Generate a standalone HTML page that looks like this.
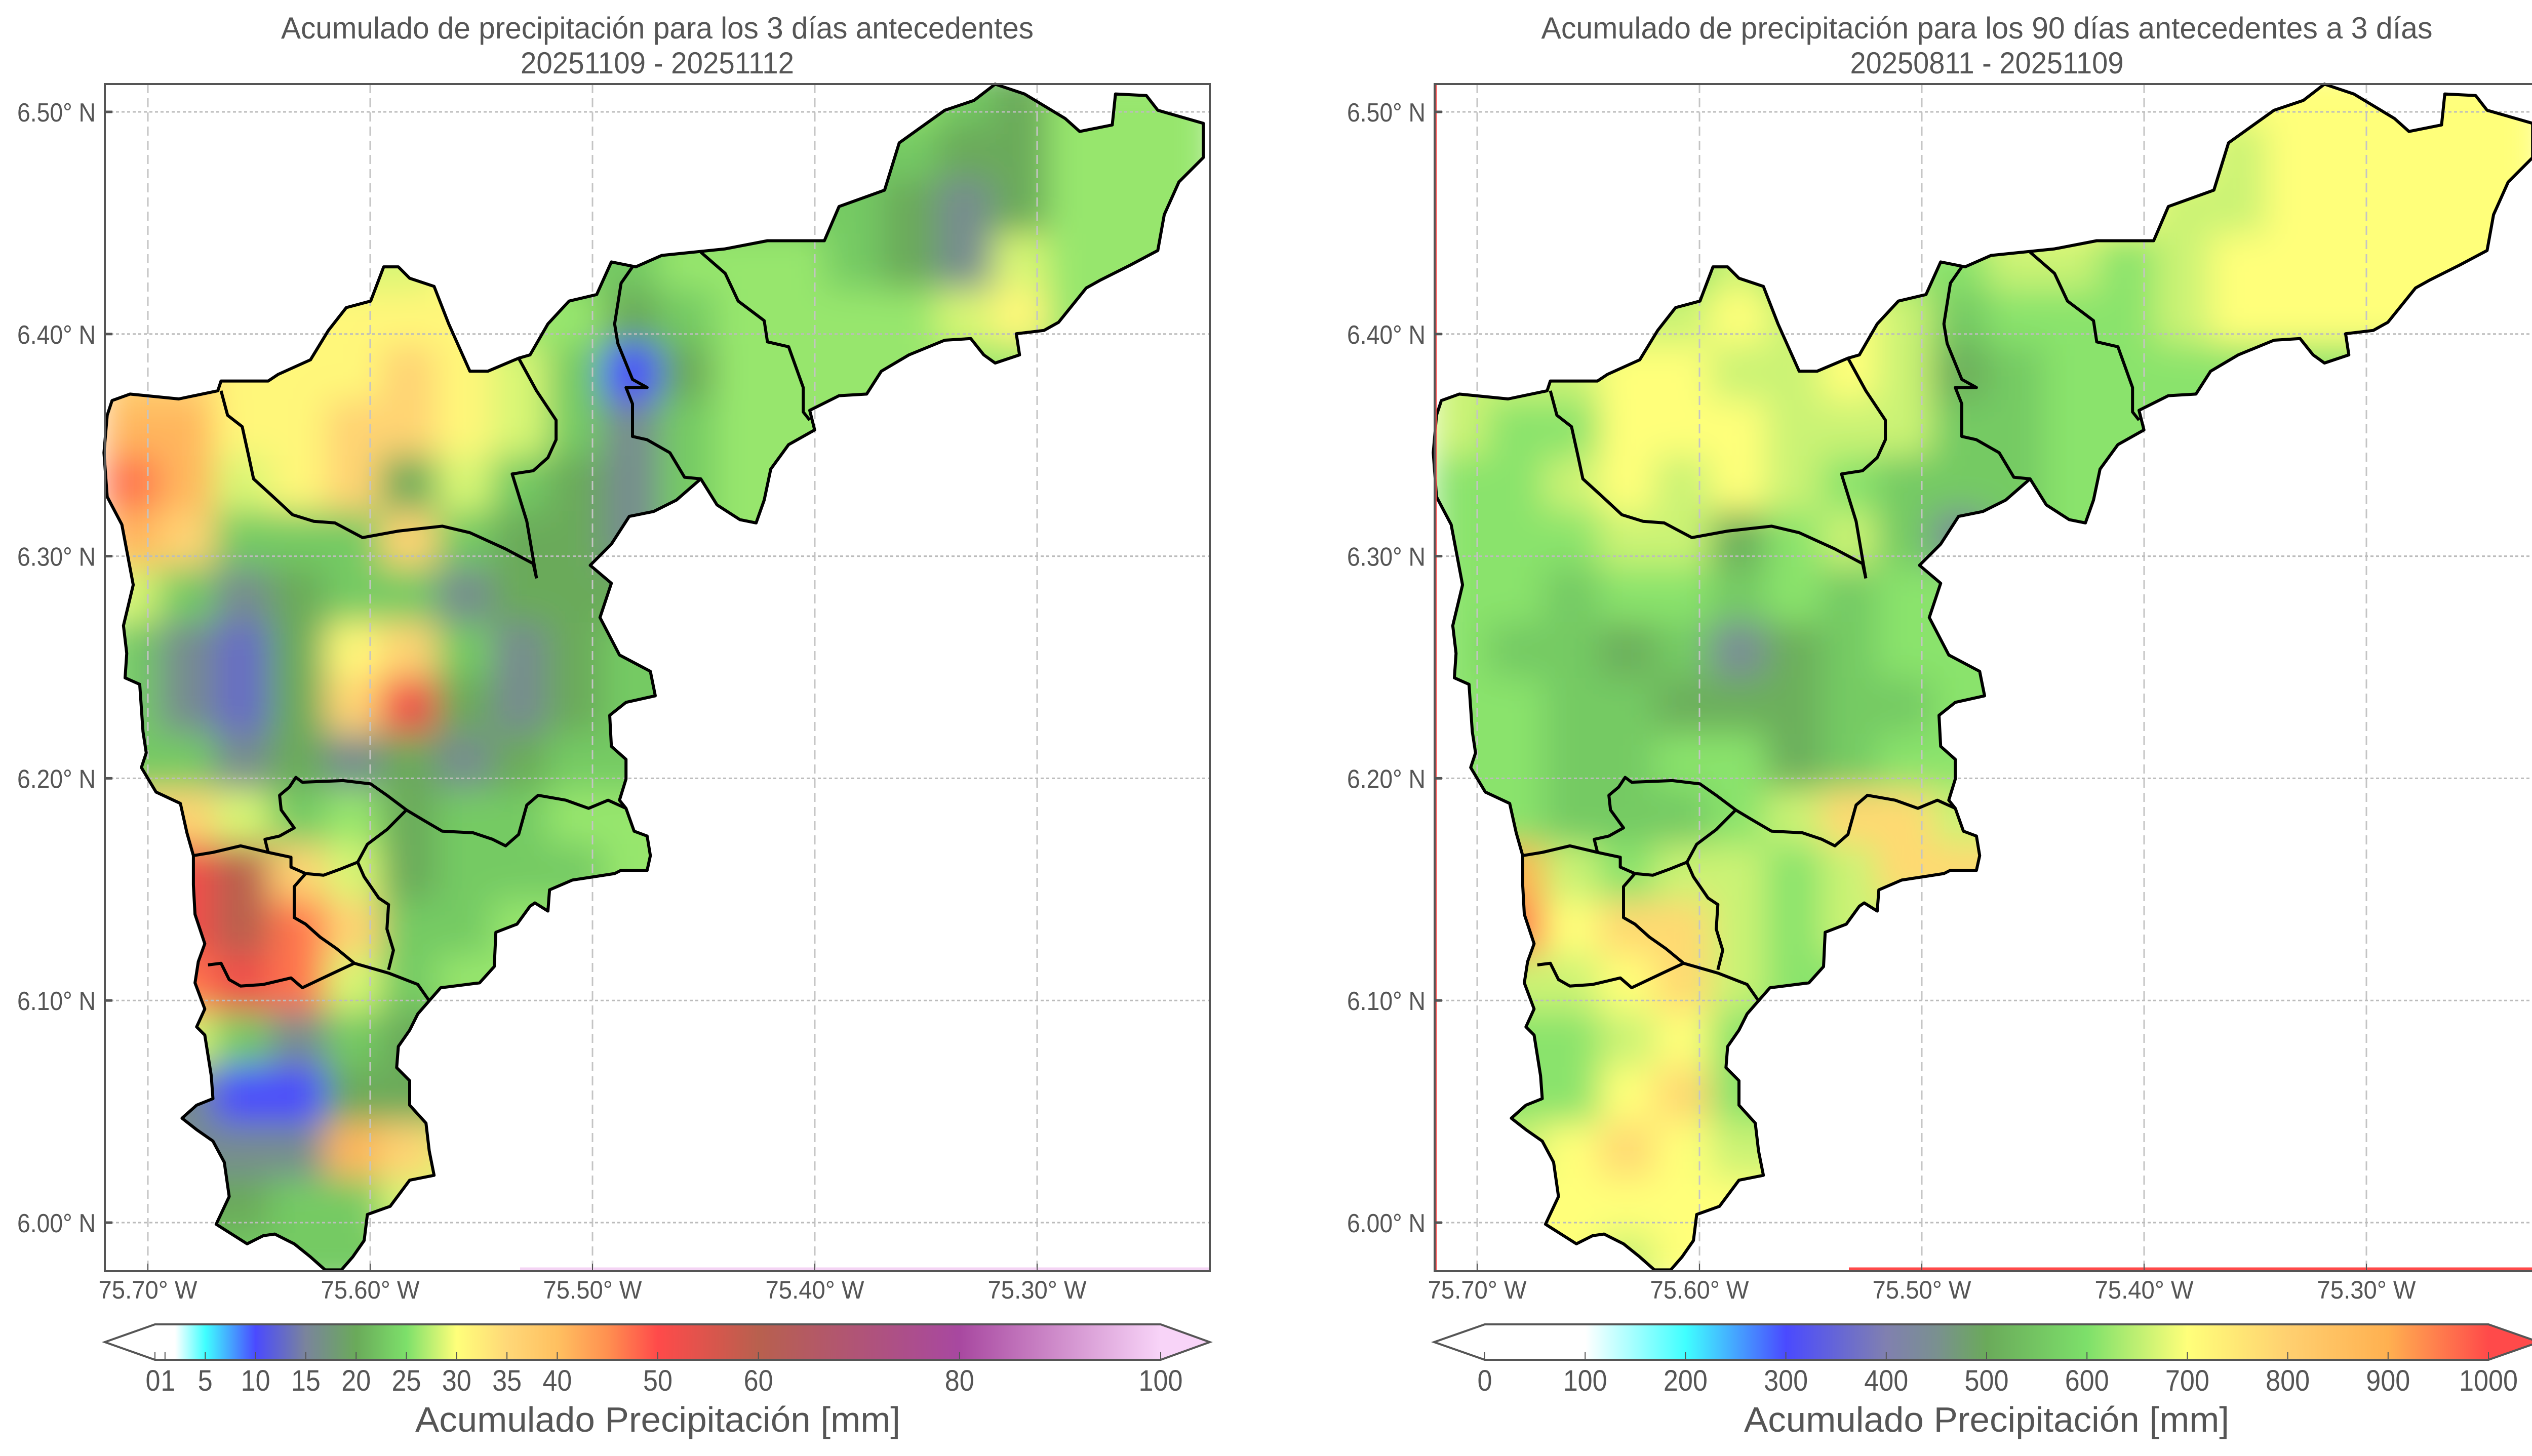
<!DOCTYPE html>
<html><head><meta charset="utf-8">
<style>
html,body{margin:0;padding:0;background:#fff;overflow:hidden;}
svg{display:block;font-family:"Liberation Sans Narrow","Liberation Sans",sans-serif;}
</style></head>
<body>
<svg id="chart" xmlns="http://www.w3.org/2000/svg" width="5044" height="2876" viewBox="0 0 5044 2876">
<defs>
<linearGradient id="cbLeft" x1="0" x2="1" y1="0" y2="0"></linearGradient>
<linearGradient id="cbRight" x1="0" x2="1" y1="0" y2="0"></linearGradient>
<filter id="blurL" filterUnits="userSpaceOnUse" x="0" y="0" width="5044" height="2876"><feGaussianBlur stdDeviation="34"/></filter>
</defs>
</svg>
<script>
// ---------- data ----------
const lonTicks = [-75.70, -75.60, -75.50, -75.40, -75.30];
const lonTickLabels = ["75.70° W","75.60° W","75.50° W","75.40° W","75.30° W"];
const latTicks = [6.00, 6.10, 6.20, 6.30, 6.40, 6.50];
const latTickLabels = ["6.00° N","6.10° N","6.20° N","6.30° N","6.40° N","6.50° N"];
const gridLon0 = -75.72, gridLat0 = 6.52, gridStep = 0.025;
const leftCodes = {c:5,B:10,b:13,S:16,g:20,G:23,L:26,y:28.5,Y:31,o:36,O:41,r:47,R:52,M:60};
const rightCodes = {S:440,g:510,G:560,L:610,y:660,Y:700,o:780,O:840,r:900,R:960};
const leftGrid = [
"LLLLLLLLLLLLLLLGgLLL",
"GGGGGGGGGGGGGGGggLLL",
"GGGGGGGGGGGGGGgSgLLL",
"YYYYyyYYGGLLLGgSyLLL",
"YYYYYYYLLgGLLLLyYLLL",
"ooYYYoYyGBgLLLLLLLLL",
"OOYYooYyGSGLLLLLLLLL",
"rOyYogyGgSGLLLLLLLLL",
"OoGGGoGggSGLLLLLLLLL",
"yGSgGGSgggGLLLLLLLLL",
"GSbgYoGSgGGGGGGGGGGG",
"GSbgoRgSgGGGGGGGGGGG",
"GGSgSgSgGGGGGGGGGGGG",
"ooyGLgGGLLLLLLLLLLLL",
"RRMoygGGGLLLLLLLLLLL",
"RRMroGGLLLLLLLLLLLLL",
"rrRryGLLLLLLLLLLLLLL",
"yyGSGggggggggggggggg",
"SSBBgggggggggggggggg",
"SSSSOoyyyyyyyyyyyyyy",
"gggGGyyyyyyyyyyyyyyy",
"GGGGGGGGGGGGGGGGGGGG"];
const rightGrid = [
"YYYYYYYYYYYYYYYYYYYY",
"YYYYYYYYYYYYYYyYYYYY",
"YYYYYYYYYYYYYyyYYYYY",
"LLLLLyLLLLyyLyYYYYYY",
"yyyyyYyYyGLLLyYYYYYY",
"yyyYYyyYygGLLLLLLLLL",
"yLLYYYyyyGGLLLLLLLLL",
"LLyYyYyLGGGLLLLLLLLL",
"LLLyygLyGSGLLLLLLLLL",
"LLGLLGLGLLLLLLLLLLLL",
"LGGgGSgGLLLLLLLLLLLL",
"LLGGgggGGLLLLLLLLLLL",
"LLGGLLgGLLLLLLLLLLLL",
"LLGGGLyooyyyyyyyyyyy",
"rryLyyLyoooooooooooo",
"RRYooyLyyyyyyyyyyyyy",
"yyyYoyLLLLLLLLLLLLLL",
"LLLyYLLLLLLLLLLLLLLL",
"LLLYoLLLLLLLLLLLLLLL",
"yyYoYyyyyyyyyyyyyyyy",
"YYYYYYYYYYYYYYYYYYYY",
"YYYyYYYYYYYYYYYYYYYY"];
const leftCbTicks = [0,1,5,10,15,20,25,30,35,40,50,60,80,100];
const leftCbLabels = ["0","1","5","10","15","20","25","30","35","40","50","60","80","100"];
const rightCbTicks = [0,100,200,300,400,500,600,700,800,900,1000];
const rightCbLabels = ["0","100","200","300","400","500","600","700","800","900","1000"];

// basemap geometry (traced, reference-image units -> converted to lon/lat below)
const outlineTrace = [[69,246],[80,242],[110,245],[134,240],[136,234],[165,234],[171,230],[191,221],[202,203],[213,189],[228,185],[236,164],[245,164],[252,171],[267,176],[276,199],[289,228],[300,228],[319,220],[326,218],[337,199],[350,185],[367,181],[376,161],[391,164],[407,157],[446,153],[472,148],[507,148],[516,127],[544,117],[553,88],[581,68],[599,62],[612,52],[630,58],[655,73],[664,81],[684,77],[686,58],[705,59],[712,68],[740,76],[740,97],[725,112],[716,132],[712,154],[695,163],[677,172],[668,177],[651,198],[642,203],[625,205],[627,218],[612,223],[605,218],[597,208],[581,209],[559,218],[542,228],[533,242],[516,243],[498,252],[501,264],[485,273],[474,288],[470,307],[465,321],[455,319],[441,310],[431,294],[416,307],[402,314],[387,317],[376,334],[363,347],[376,358],[369,379],[381,402],[400,412],[403,427],[385,431],[375,439],[376,458],[385,466],[385,478],[381,491],[385,496],[390,510],[398,513],[400,525],[398,534],[382,534],[378,536],[352,540],[338,546],[337,559],[329,554],[326,556],[318,567],[305,572],[304,593],[295,603],[271,606],[264,614],[257,622],[252,632],[245,642],[244,655],[252,663],[252,678],[262,689],[264,706],[267,721],[252,724],[240,740],[226,745],[224,761],[217,771],[210,779],[200,779],[191,771],[181,763],[169,757],[162,758],[152,763],[133,751],[141,734],[138,713],[131,700],[121,693],[112,686],[121,678],[131,674],[130,660],[126,635],[121,630],[126,619],[120,603],[122,590],[126,579],[120,561],[119,543],[119,525],[115,511],[111,493],[96,486],[87,471],[90,462],[88,449],[86,420],[77,416],[78,401],[76,384],[82,359],[75,322],[66,305],[64,278],[66,255]];
const subbasinTraces = [
[[136,240],[140,255],[149,262],[153,280],[156,294],[167,304],[180,316],[193,320],[206,321],[223,330],[245,326],[272,323],[289,327],[311,337],[328,346],[330,355]],
[[330,355],[324,320],[315,291],[328,289],[337,281],[342,270],[342,258],[330,240],[319,220]],
[[431,294],[421,293],[412,278],[398,270],[389,268],[389,248],[385,238],[398,238],[389,233],[380,211],[378,199],[382,174],[389,164]],
[[431,155],[446,168],[454,185],[470,197],[472,210],[485,213],[494,238],[494,253],[498,258]],
[[119,525],[131,523],[148,519],[165,523],[179,526],[179,532],[188,536],[199,537],[210,533],[220,529]],
[[220,529],[224,538],[233,551],[239,555],[238,570],[242,583],[239,595]],
[[220,529],[226,518],[238,509],[250,497],[260,503],[272,510],[291,511],[303,515],[311,519],[319,512],[324,494],[331,488],[348,491],[362,496],[374,491],[385,496]],
[[250,497],[238,488],[228,481],[211,479],[186,480],[182,477],[178,483],[172,488],[173,497],[181,508],[172,513],[163,515],[165,523]],
[[188,536],[181,544],[181,563],[188,567],[197,575],[207,582],[218,591],[239,597],[257,604],[264,614]],
[[218,591],[205,597],[186,606],[179,600],[162,604],[148,605],[141,601],[136,591],[128,592]]];

// ---------- helpers ----------
const NS = "http://www.w3.org/2000/svg";
const svg = document.getElementById("chart");
function mk(tag, attrs, parent){const e=document.createElementNS(NS,tag);for(const k in attrs)e.setAttribute(k,attrs[k]);(parent||svg).appendChild(e);return e;}
const toGeo = p => [-75.70 + (p[0]-91)/1367, 6.50 - (p[1]-69)/1362];
const outlineGeo = outlineTrace.map(toGeo);
const subGeo = subbasinTraces.map(l => l.map(toGeo));
const AX = {top:166, bottom:2511};
const yScale = lat => 221 + (6.50 - lat) * 4388;
function hex2rgb(h){return [parseInt(h.substr(1,2),16),parseInt(h.substr(3,2),16),parseInt(h.substr(5,2),16)];}
function cmap(stops, v){
  if(v<=stops[0][0]) return stops[0][1];
  for(let i=1;i<stops.length;i++){ if(v<=stops[i][0]){const t=(v-stops[i-1][0])/(stops[i][0]-stops[i-1][0]);const a=hex2rgb(stops[i-1][1]),b=hex2rgb(stops[i][1]);return "rgb("+a.map((x,j)=>Math.round(x+(b[j]-x)*t)).join(",")+")";}}
  return stops[stops.length-1][1];
}
const leftStops=[[0,'#ffffff'],[2,'#ffffff'],[5,'#40ffff'],[10,'#4a4aff'],[15,'#7a849c'],[20,'#6aaa5a'],[25,'#7de06a'],[30,'#ffff7a'],[35,'#ffd878'],[40,'#ffc060'],[45,'#ff9050'],[50,'#ff4a4a'],[60,'#b8604e'],[80,'#a848a0'],[100,'#f8d4f8']];
const rightStops=[[0,'#ffffff'],[100,'#ffffff'],[200,'#40ffff'],[300,'#4a4aff'],[400,'#8080b0'],[450,'#7a9090'],[500,'#6aaa5a'],[600,'#7de06a'],[700,'#ffff7a'],[800,'#ffd070'],[900,'#ffb050'],[1000,'#ff4a4a']];
function txt(parent,x,y,s,size,anchor,len){const t=mk("text",{x:x,y:y,"font-size":size,fill:"#555","text-anchor":anchor||"middle"},parent);if(len){t.setAttribute("textLength",len);t.setAttribute("lengthAdjust","spacingAndGlyphs");}t.textContent=s;return t;}

function panel(o){
  const g = mk("g",{});
  
  
  const xS = lon => o.x0 + (lon + 75.70) * 4390;
  const clipId = "clip-"+o.name;
  const cp = mk("clipPath",{id:clipId}, svg.querySelector("defs"));
  const ptsStr = outlineGeo.map(p=>xS(p[0]).toFixed(1)+","+yScale(p[1]).toFixed(1)).join(" ");
  mk("polygon",{points:ptsStr},cp);
  const field = mk("g",{"clip-path":"url(#"+clipId+")"},g);
  
  
  const blurG = mk("g",{filter:"url(#blurL)"},field);
  o.grid.forEach((row,r)=>{
    for(let c=0;c<row.length;c++){
      const v=o.codes[row[c]];
      const lonA=gridLon0+gridStep*c, lonB=lonA+gridStep;
      const latA=gridLat0-gridStep*r, latB=latA-gridStep;
      const rect=mk("rect",{x:xS(lonA)-1,y:yScale(latA)-1,width:xS(lonB)-xS(lonA)+2,height:yScale(latB)-yScale(latA)+2,fill:cmap(o.stops,v)},blurG);
      
      
    }
  });
  lonTicks.forEach(l=>{const ln=mk("line",{x1:xS(l),x2:xS(l),y1:AX.top,y2:AX.bottom,stroke:"#c4c4c4","stroke-width":3,"stroke-dasharray":"18 10"},g);
    });
  latTicks.forEach(l=>{const ln=mk("line",{x1:o.left,x2:o.right,y1:yScale(l),y2:yScale(l),stroke:"#bcbcbc","stroke-width":3,"stroke-dasharray":"6 5"},g);
    });
  const ol=mk("polygon",{points:ptsStr,fill:"none",stroke:"#000","stroke-width":6,"stroke-linejoin":"round"},g);
  
  subGeo.forEach(l=>{const pl=mk("polyline",{points:l.map(p=>xS(p[0]).toFixed(1)+","+yScale(p[1]).toFixed(1)).join(" "),fill:"none",stroke:"#000","stroke-width":6,"stroke-linejoin":"round"},g);
    });
  const art=mk("line",{x1:o.artX,x2:o.right,y1:AX.bottom-4,y2:AX.bottom-4,stroke:o.artColor,"stroke-width":7},g);
  
  if(o.artLeft){const a2=mk("line",{x1:o.left+2,x2:o.left+2,y1:AX.top,y2:AX.bottom,stroke:o.artColor,"stroke-width":4},g);
    }
  const fr=mk("rect",{x:o.left,y:AX.top,width:o.right-o.left,height:AX.bottom-AX.top,fill:"none",stroke:"#555","stroke-width":4},g);
  
  lonTicks.forEach((l,i)=>{const tk=mk("line",{x1:xS(l),x2:xS(l),y1:AX.bottom-15,y2:AX.bottom,stroke:"#555","stroke-width":2},g);
    
    const t=txt(g,xS(l),2565,lonTickLabels[i],50,"middle",195);
    });
  latTicks.forEach((l,i)=>{const tk=mk("line",{x1:o.left,x2:o.left+15,y1:yScale(l),y2:yScale(l),stroke:"#555","stroke-width":5},g);
    
    const t=txt(g,o.left-18,yScale(l)+19,latTickLabels[i],52,"end",155);
    });
  const cx=(o.left+o.right)/2;
  const t1=txt(g,cx,76,o.title1,60,"middle",o.t1len);
  
  const t2=txt(g,cx,145,o.title2,60,"middle",540);
  
  const cb=mk("g",{},g);
  
  const gr=document.getElementById(o.grad);
  o.stops.forEach(s=>{mk("stop",{offset:(s[0]-o.cbMin)/(o.cbMax-o.cbMin),"stop-color":s[1]},gr);});
  const L=o.cbL,R=o.cbR,T=2616,B=2686,M=2651;
  const cbScale=v=>L+(v-o.cbMin)/(o.cbMax-o.cbMin)*(R-L);
  const la=mk("polygon",{points:`${L},${T} ${o.tipL},${M} ${L},${B}`,fill:o.stops[0][1]},cb);
  
  const ra=mk("polygon",{points:`${R},${T} ${o.tipR},${M} ${R},${B}`,fill:o.stops[o.stops.length-1][1]},cb);
  
  const bar=mk("rect",{x:L,y:T,width:R-L,height:B-T,fill:"url(#"+o.grad+")"},cb);
  
  const bo=mk("polygon",{points:`${L},${T} ${R},${T} ${o.tipR},${M} ${R},${B} ${L},${B} ${o.tipL},${M}`,fill:"none",stroke:"#555","stroke-width":4},cb);
  
  o.cbTicks.forEach((v,i)=>{const tk=mk("line",{x1:cbScale(v),x2:cbScale(v),y1:2671,y2:B,stroke:"#555","stroke-width":2},cb);
    
    const s=o.cbLabels[i];
    const t=txt(cb,cbScale(v)+(o.cbShift[i]||0),2747,s,58,"middle",29*s.length);
    });
  const cl=txt(cb,(L+R)/2,2828,"Acumulado Precipitación [mm]",70,"middle",958);
  
}

panel({name:"map-3-day",x0:292,left:207,right:2389,grid:leftGrid,codes:leftCodes,stops:leftStops,
  title1:"Acumulado de precipitación para los 3 días antecedentes",title2:"20251109 - 20251112",t1len:1486,
  artX:1027,artColor:"#f4d4f4",artLeft:false,grad:"cbLeft",cbMin:0,cbMax:100,cbL:306,cbR:2292,tipL:207,tipR:2389,
  cbTicks:leftCbTicks,cbLabels:leftCbLabels,cbShift:[-4,6]});
panel({name:"map-90-day",x0:2917,left:2833,right:5014,grid:rightGrid,codes:rightCodes,stops:rightStops,
  title1:"Acumulado de precipitación para los 90 días antecedentes a 3 días",title2:"20250811 - 20251109",t1len:1760,
  artX:3651,artColor:"#ff4a4a",artLeft:true,grad:"cbRight",cbMin:0,cbMax:1000,cbL:2932,cbR:4914,tipL:2832,tipR:5014,
  cbTicks:rightCbTicks,cbLabels:rightCbLabels,cbShift:[]});
</script>
</body></html>
